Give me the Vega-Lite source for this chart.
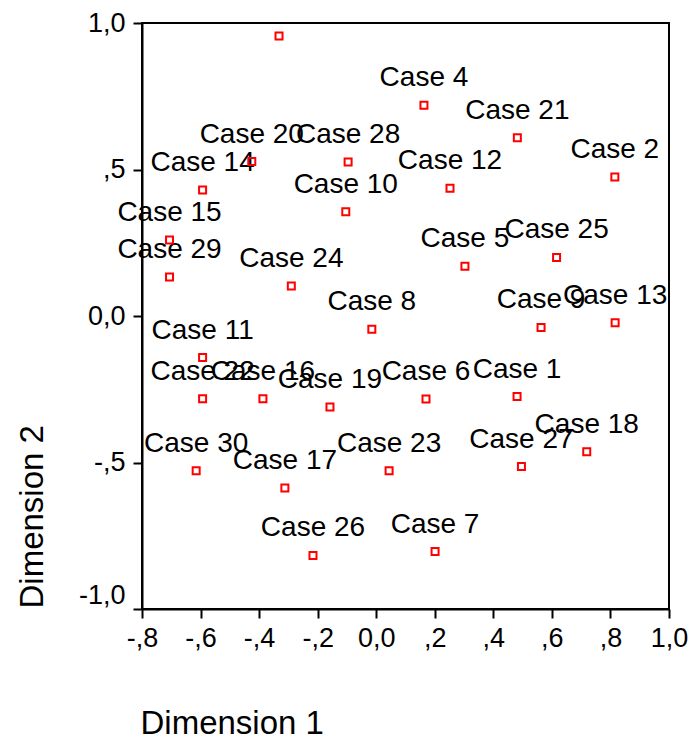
{
  "$schema": "https://vega.github.io/schema/vega-lite/v6.json",
  "width": 527,
  "height": 586,
  "autosize": "none",
  "padding": {"left": 142, "top": 23, "right": 21, "bottom": 131},
  "background": "white",
  "config": {
    "view": {"stroke": "black", "strokeWidth": 2},
    "font": "Liberation Sans",
    "axis": {
      "grid": false,
      "domainColor": "black",
      "domainWidth": 2,
      "tickColor": "black",
      "tickWidth": 2,
      "tickSize": 9,
      "labelFont": "Liberation Sans",
      "labelFontSize": 27,
      "labelColor": "black",
      "titleFont": "Liberation Sans",
      "titleFontSize": 33,
      "titleFontWeight": "normal",
      "titleColor": "black"
    }
  },
  "data": {
    "values": [
      {"case": "Case 1", "x": 0.481, "y": -0.275},
      {"case": "Case 2", "x": 0.815, "y": 0.474},
      {"case": "Case 3", "x": -0.332, "y": 0.956},
      {"case": "Case 4", "x": 0.163, "y": 0.719},
      {"case": "Case 5", "x": 0.303, "y": 0.170},
      {"case": "Case 6", "x": 0.170, "y": -0.283},
      {"case": "Case 7", "x": 0.201, "y": -0.804},
      {"case": "Case 8", "x": -0.015, "y": -0.045},
      {"case": "Case 9", "x": 0.563, "y": -0.039},
      {"case": "Case 10", "x": -0.104, "y": 0.356},
      {"case": "Case 11", "x": -0.593, "y": -0.142},
      {"case": "Case 12", "x": 0.252, "y": 0.436},
      {"case": "Case 13", "x": 0.816, "y": -0.023},
      {"case": "Case 14", "x": -0.593, "y": 0.430},
      {"case": "Case 15", "x": -0.706, "y": 0.259},
      {"case": "Case 16", "x": -0.387, "y": -0.282},
      {"case": "Case 17", "x": -0.312, "y": -0.587},
      {"case": "Case 18", "x": 0.719, "y": -0.463},
      {"case": "Case 19", "x": -0.158, "y": -0.311},
      {"case": "Case 20", "x": -0.425, "y": 0.527},
      {"case": "Case 21", "x": 0.482, "y": 0.608},
      {"case": "Case 22", "x": -0.593, "y": -0.282},
      {"case": "Case 23", "x": 0.044, "y": -0.528},
      {"case": "Case 24", "x": -0.290, "y": 0.102},
      {"case": "Case 25", "x": 0.616, "y": 0.200},
      {"case": "Case 26", "x": -0.216, "y": -0.817},
      {"case": "Case 27", "x": 0.496, "y": -0.514},
      {"case": "Case 28", "x": -0.096, "y": 0.526},
      {"case": "Case 29", "x": -0.706, "y": 0.133},
      {"case": "Case 30", "x": -0.615, "y": -0.528}
    ]
  },
  "encoding": {
    "x": {
      "field": "x",
      "type": "quantitative",
      "scale": {"domain": [-0.8, 1.0], "nice": false, "zero": false},
      "axis": {
        "title": "Dimension 1",
        "values": [-0.8, -0.6, -0.4, -0.2, 0, 0.2, 0.4, 0.6, 0.8, 1.0],
        "labelExpr": "datum.value == 0 ? '0,0' : replace(replace(replace(format(datum.value, '.1f'), '\u2212', '-'), '0.', '.'), '.', ',')",
        "labelPadding": 7,
        "labelFlush": false,
        "labelOverlap": false,
        "titleX": -2,
        "titleY": 124,
        "titleAlign": "left",
        "titleBaseline": "alphabetic"
      }
    },
    "y": {
      "field": "y",
      "type": "quantitative",
      "scale": {"domain": [-1.0, 1.0], "nice": false, "zero": false},
      "axis": {
        "title": "Dimension 2",
        "values": [-1.0, -0.5, 0, 0.5, 1.0],
        "labelExpr": "datum.value == 0 ? '0,0' : replace(replace(replace(format(datum.value, '.1f'), '\u2212', '-'), '0.', '.'), '.', ',')",
        "labelPadding": 8,
        "labelFlush": false,
        "labelOverlap": false,
        "labelBaseline": {"condition": {"test": "datum.value <= -1", "value": "bottom"}, "value": "middle"},
        "titleX": -100,
        "titleY": 585,
        "titleAngle": -90,
        "titleAlign": "left",
        "titleBaseline": "alphabetic"
      }
    }
  },
  "layer": [
    {
      "transform": [{"filter": "datum.y < 0.9"}],
      "mark": {
        "type": "text",
        "dy": -19,
        "align": "center",
        "baseline": "alphabetic",
        "fontSize": 28,
        "font": "Liberation Sans",
        "color": "black"
      },
      "encoding": {"text": {"field": "case"}}
    },
    {
      "mark": {
        "type": "point",
        "shape": "square",
        "filled": false,
        "size": 49,
        "strokeWidth": 2,
        "color": "#ff0000",
        "opacity": 1
      }
    }
  ]
}
